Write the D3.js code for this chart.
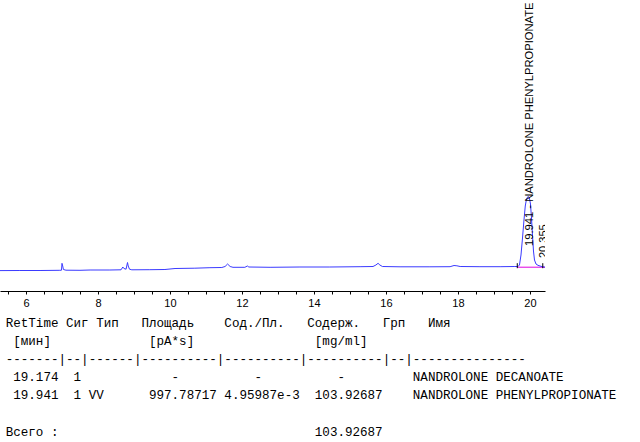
<!DOCTYPE html>
<html><head><meta charset="utf-8">
<script src="https://cdn.jsdelivr.net/npm/d3@7"></script>
<style>body{margin:0;background:#fff} svg{display:block}</style>
</head><body>
<svg id="c" width="640" height="442"></svg>
<script>
// ---- chromatogram data (time in min, signal in pA) ----
const times = [5.278,5.83,6.39,6.94,6.986,7.0,7.02,7.04,7.11,7.5,7.78,8.33,8.64,8.69,8.72,8.78,8.82,8.84,8.875,8.94,9.44,9.86,10.14,10.69,11.11,11.44,11.53,11.6,11.67,11.75,12.08,12.15,12.19,12.78,13.61,14.44,15.28,15.64,15.72,15.78,15.83,15.9,16.39,17.22,17.78,17.89,17.97,18.06,18.61,19.17,19.58,19.667,19.708,19.75,19.792,19.833,19.869,19.903,19.944,19.981,20.014,20.042,20.069,20.097,20.125,20.167,20.222,20.278,20.355,20.417];
const signal = [0.7,0.75,0.75,0.85,0.9,4.35,3.0,1.25,0.9,0.85,1.0,1.0,1.1,2.5,1.75,1.4,4.75,3.0,1.4,1.1,1.15,1.25,1.75,1.9,2.15,2.25,2.75,4.0,2.75,2.35,2.35,3.0,2.5,2.35,2.5,2.5,2.65,2.75,3.5,4.35,3.5,2.75,2.6,2.6,2.65,3.25,3.1,2.75,2.65,2.65,2.75,2.75,3.5,8.5,17,26,33,36.5,37.75,37.25,34,27,18.5,10.5,6,4,3.35,3.0,2.6,2.4];
const timeDomain = [5.278, 20.417];
const signalDomain = [0, 135];
const axisTicks = [5.5,6,6.5,7,7.5,8,8.5,9,9.5,10,10.5,11,11.5,12,12.5,13,13.5,14,14.5,15,15.5,16,16.5,17,17.5,18,18.5,19,19.5,20];
const tickLabels = [6,8,10,12,14,16,18,20];
const peakRT = 19.941, peakLabel = "19.941 - NANDROLONE PHENYLPROPIONATE";
const peak2RT = 20.355, peak2Label = "20.355";
const peakStart = 19.647, baselineEnd = 20.417, baselineLevel = 2.4;

// ---- report table data ----
const headers = ["RetTime","Сиг","Тип","Площадь","Сод./Пл.","Содерж.","Грп","Имя"];
const units = ["[мин]","[pA*s]","[mg/ml]"];
const separator = "-------|--|------|----------|----------|----------|--|---------------";
const retTimes = ["19.174","19.941"];
const sigs = ["1","1"];
const types = ["","VV"];
const areas = ["-","997.78717"];
const amtPerArea = ["-","4.95987e-3"];
const amounts = ["-","103.92687"];
const groups = ["",""];
const names = ["NANDROLONE DECANOATE","NANDROLONE PHENYLPROPIONATE"];
const totalLabel = "Всего :", totalAmount = "103.92687";

const svg = d3.select("#c");
svg.append("rect").attr("width",640).attr("height",442).attr("fill","#fff");

const x = d3.scaleLinear().domain(timeDomain).range([0,545]);
const y = d3.scaleLinear().domain(signalDomain).range([272,2]);

svg.append("defs").append("clipPath").attr("id","clip")
  .append("rect").attr("x",0).attr("y",0).attr("width",545).attr("height",291);

const plot = svg.append("g").attr("clip-path","url(#clip)");
const pts = times.map((t,i)=>({t, s: signal[i]}));

// baseline of integrated peak
plot.append("line")
  .attr("x1", x(peakStart)).attr("x2", x(baselineEnd))
  .attr("y1", y(baselineLevel)).attr("y2", y(baselineLevel))
  .attr("stroke","#e000e0").attr("stroke-width",1);

plot.append("path").datum(pts)
  .attr("fill","none").attr("stroke","#3a3aff").attr("stroke-width",1)
  .attr("d", d3.line().x(d=>x(d.t)).y(d=>y(d.s)));

// peak start / end markers
[peakStart, peak2RT].forEach(t=>{
  plot.append("line").attr("x1",x(t)).attr("x2",x(t))
    .attr("y1", y(baselineLevel)-4).attr("y2", y(baselineLevel)+1)
    .attr("stroke","#000").attr("stroke-width",1);
});

// peak labels
plot.append("text")
  .attr("transform",`translate(${x(peakRT)+5},246) rotate(-90)`)
  .attr("font-family","'Liberation Sans', Arial, sans-serif").attr("font-size",11.2)
  .attr("fill","#000").text(peakLabel);
plot.append("text")
  .attr("transform",`translate(${x(peak2RT)+4.5},258) rotate(-90)`)
  .attr("font-family","'Liberation Sans', Arial, sans-serif").attr("font-size",11)
  .attr("fill","#000").text(peak2Label);

// axis
const ax = svg.append("g").attr("transform","translate(0,291)")
  .call(d3.axisBottom(x).tickValues(axisTicks).tickSize(3.5).tickSizeOuter(0)
    .tickFormat(d => tickLabels.includes(d) ? String(d) : ""));
ax.selectAll("path,line").attr("stroke","#000");
ax.selectAll("text").attr("y",8.5).attr("fill","#000")
  .attr("font-family","'Liberation Sans', Arial, sans-serif").attr("font-size",11);

// ---- table ----
const cw = 7.543, x0 = 5.73;
function blank(){ return Array(72).fill(" "); }
function put(arr,col,str){ for(let i=0;i<str.length;i++) arr[col+i]=str[i]; }
function putRight(arr,endCol,str){ put(arr,endCol-str.length+1,str); }
function putCell(arr,start,end,str){
  if(str==="-") put(arr, Math.floor((start+end)/2), str);
  else putRight(arr,end,str);
}
const lines = [];
let l = blank();
[0,8,12,18,29,40,50,56].forEach((c,i)=>put(l,c,headers[i]));
lines.push(l.join(""));
l = blank(); put(l,1,units[0]); put(l,19,units[1]); put(l,41,units[2]);
lines.push(l.join(""));
lines.push(separator);
retTimes.forEach((r,i)=>{
  const a = blank();
  put(a,1,retTimes[i]); put(a,9,sigs[i]); put(a,11,types[i]);
  putCell(a,18,27,areas[i]); putCell(a,29,38,amtPerArea[i]); putCell(a,40,49,amounts[i]);
  put(a,51,groups[i]); put(a,54,names[i]);
  lines.push(a.join(""));
});
lines.push("");
l = blank(); put(l,0,totalLabel); put(l,41,totalAmount);
lines.push(l.join(""));

svg.append("g").selectAll("text").data(lines).join("text")
  .attr("x", x0).attr("y",(d,i)=>326.5 + i*18.2)
  .attr("font-family","'Liberation Mono', 'DejaVu Sans Mono', monospace")
  .attr("font-size", cw/0.6)
  .attr("fill","#000")
  .style("white-space","pre")
  .text(d=>d.replace(/\s+$/,""));
</script>
</body></html>
